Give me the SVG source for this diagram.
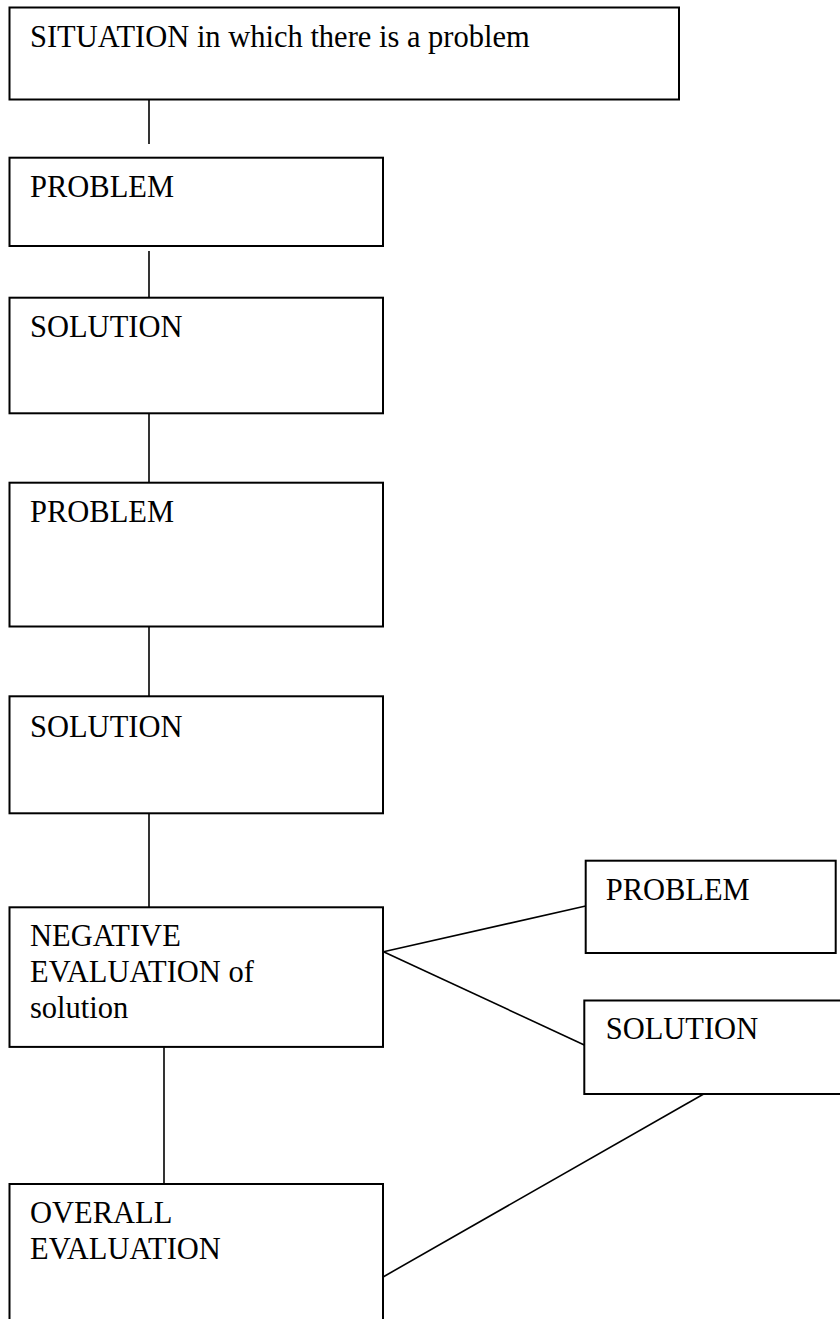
<svg xmlns="http://www.w3.org/2000/svg" width="840" height="1319" viewBox="0 0 840 1319">
<style>
.box{fill:#fff;stroke:#000;stroke-width:2}
.lbl{font-family:"Liberation Serif","Times New Roman",serif;font-size:30.5px;fill:#000}
.con{stroke:#000;stroke-width:1.6;fill:none}
</style>
<rect width="840" height="1319" fill="#fff"/>
<g id="connectors">
<line class="con" x1="149" y1="99" x2="149" y2="144"/>
<line class="con" x1="149" y1="251" x2="149" y2="298"/>
<line class="con" x1="149" y1="413" x2="149" y2="483"/>
<line class="con" x1="149" y1="625" x2="149" y2="696"/>
<line class="con" x1="149" y1="812" x2="149" y2="907"/>
<line class="con" x1="164" y1="1044" x2="164" y2="1184"/>
<line class="con" x1="383.5" y1="951.7" x2="585.7" y2="906"/>
<line class="con" x1="383.5" y1="951.7" x2="584.3" y2="1045"/>
<line class="con" x1="383.5" y1="1276.7" x2="710.7" y2="1090"/>
</g>
<g id="situation">
<rect class="box" x="9.5" y="7.5" width="669.5" height="92"/>
<text class="lbl" x="30" y="47">SITUATION in which there is a problem</text>
</g>
<g id="problem1">
<rect class="box" x="9.5" y="157.7" width="373.5" height="88.3"/>
<text class="lbl" x="30" y="197">PROBLEM</text>
</g>
<g id="solution1">
<rect class="box" x="9.5" y="297.7" width="373.5" height="115.6"/>
<text class="lbl" x="30" y="337">SOLUTION</text>
</g>
<g id="problem2">
<rect class="box" x="9.5" y="482.7" width="373.5" height="143.8"/>
<text class="lbl" x="30" y="522">PROBLEM</text>
</g>
<g id="solution2">
<rect class="box" x="9.5" y="696.3" width="373.5" height="117"/>
<text class="lbl" x="30" y="736.7">SOLUTION</text>
</g>
<g id="negative-evaluation">
<rect class="box" x="9.5" y="907.3" width="373.5" height="139.6"/>
<text class="lbl" x="30" y="946">NEGATIVE</text>
<text class="lbl" x="30" y="982">EVALUATION of</text>
<text class="lbl" x="30" y="1017.5">solution</text>
</g>
<g id="problem3">
<rect class="box" x="585.7" y="860.7" width="250" height="92.3"/>
<text class="lbl" x="605.7" y="900">PROBLEM</text>
</g>
<g id="solution3">
<rect class="box" x="584.3" y="1000.5" width="270" height="93.5"/>
<text class="lbl" x="605.7" y="1039">SOLUTION</text>
</g>
<g id="overall-evaluation">
<rect class="box" x="9.5" y="1184" width="373.5" height="150"/>
<text class="lbl" x="30" y="1222.7">OVERALL</text>
<text class="lbl" x="30" y="1259.3">EVALUATION</text>
</g>
</svg>
